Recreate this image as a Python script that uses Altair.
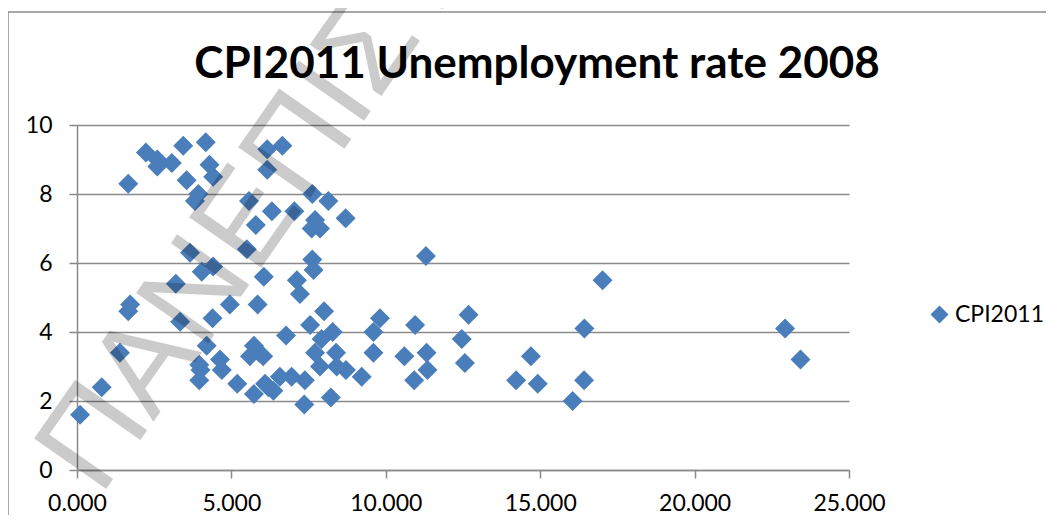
import altair as alt
import pandas as pd

# ---- data ----
cpi2011 = [0.10, 0.80, 1.39, 1.72, 1.66, 1.66, 2.23, 2.60, 2.60, 3.07,
           3.44, 4.17, 4.29, 4.41, 3.55, 3.93, 3.82, 3.66, 4.04, 4.41,
           3.20, 3.34, 4.39, 4.95, 5.85, 4.20, 3.96, 4.00, 3.96, 4.63,
           4.69, 5.19, 5.73, 5.57, 6.31, 7.04, 5.79, 5.50, 6.16, 6.65,
           6.16, 7.62, 8.14, 8.70, 7.71, 7.60, 7.87, 7.62, 7.66, 6.05,
           7.12, 7.22, 11.30, 8.00, 7.55, 8.28, 7.92, 7.71, 8.39, 7.87,
           8.41, 8.71, 7.38, 8.22, 7.36, 9.22, 9.81, 9.60, 9.60, 10.60,
           10.95, 11.32, 11.35, 10.92, 12.68, 12.46, 12.56, 14.70, 14.22, 14.92,
           16.05, 17.02, 16.43, 16.42, 22.93, 23.43, 5.73, 5.60, 6.03, 5.90,
           6.09, 6.36, 6.57, 6.95, 6.77, 6.20]
unemployment2008 = [1.6, 2.4, 3.4, 4.8, 4.6, 8.3, 9.2, 9.0, 8.8, 8.9,
                    9.4, 9.5, 8.85, 8.5, 8.4, 8.0, 7.8, 6.3, 5.75, 5.9,
                    5.4, 4.3, 4.4, 4.8, 4.8, 3.6, 3.05, 2.9, 2.6, 3.2,
                    2.9, 2.5, 2.2, 7.8, 7.5, 7.5, 7.1, 6.4, 9.3, 9.4,
                    8.7, 8.0, 7.8, 7.3, 7.25, 7.0, 7.0, 6.1, 5.8, 5.6,
                    5.5, 5.1, 6.2, 4.6, 4.2, 4.0, 3.8, 3.4, 3.4, 3.0,
                    3.0, 2.9, 2.6, 2.1, 1.9, 2.7, 4.4, 4.0, 3.4, 3.3,
                    4.2, 3.4, 2.9, 2.6, 4.5, 3.8, 3.1, 3.3, 2.6, 2.5,
                    2.0, 5.5, 4.1, 2.6, 4.1, 3.2, 3.6, 3.3, 3.3, 3.4,
                    2.5, 2.3, 2.7, 2.7, 3.9, 2.4]
series_name = "CPI2011"
title_text = "CPI2011 Unemployment rate 2008"
x_ticks = [0, 5, 10, 15, 20, 25]
y_ticks = [0, 2, 4, 6, 8, 10]
watermark_text = "ΠΑΝΕΠΙΣΤΗΜΙΟ"
watermark_pos = [0.75, -0.8]   # data units of the watermark anchor

df = pd.DataFrame({"cpi": cpi2011, "unemp": unemployment2008, "series": series_name})

FONT = "Lato"
GRID = "#8a8a8a"
BLUE = "#4A7EBB"

x_scale = alt.Scale(domain=[0, 25], nice=False)
y_scale = alt.Scale(domain=[0, 10], nice=False)

x_axis = alt.Axis(values=x_ticks, format=".3f", title=None, grid=False,
                  domainColor=GRID, domainWidth=1.5, tickColor=GRID, tickWidth=1.5,
                  tickSize=8, labelFont=FONT, labelFontSize=23, labelColor="black",
                  labelPadding=14, labelFlush=False)
y_axis = alt.Axis(values=y_ticks, format="d", title=None, grid=True,
                  gridColor=GRID, gridWidth=1.5, domainColor=GRID, domainWidth=1.5,
                  tickColor=GRID, tickWidth=1.5, tickSize=8, labelFont=FONT,
                  labelFontSize=23, labelColor="black", labelPadding=17)

border = alt.Chart(pd.DataFrame({"k": [0]})).mark_rect(
    fillOpacity=0, stroke="#8c8c8c", strokeWidth=1.5
).encode(x=alt.value(-69), y=alt.value(-113), x2=alt.value(1500), y2=alt.value(1000))

points = alt.Chart(df).mark_point(filled=True, shape="diamond", size=400, opacity=1).encode(
    x=alt.X("cpi:Q", scale=x_scale, axis=x_axis),
    y=alt.Y("unemp:Q", scale=y_scale, axis=y_axis),
    color=alt.Color("series:N",
                    scale=alt.Scale(domain=[series_name], range=[BLUE]),
                    legend=alt.Legend(title=None, orient="none", legendX=851, legendY=178,
                                      symbolType="diamond", symbolSize=324,
                                      labelFont=FONT, labelFontSize=23, labelColor="black",
                                      labelOffset=4, padding=0)),
)

wm = alt.Chart(pd.DataFrame({"t": [watermark_text], "x": [watermark_pos[0]], "y": [watermark_pos[1]]})).mark_text(
    font="Liberation Sans", fontSize=128, angle=305, align="left", baseline="alphabetic",
    color="black", opacity=0.2
).encode(x=alt.X("x:Q", scale=x_scale), y=alt.Y("y:Q", scale=y_scale), text="t:N")

title = alt.Chart(pd.DataFrame({"t": [title_text]})).mark_text(
    font=FONT, fontSize=44, fontWeight="bold", color="black", align="center", baseline="alphabetic"
).encode(x=alt.value(460), y=alt.value(-47), text="t:N")

chart = alt.layer(border, points, wm, title).properties(
    width=772, height=345,
    autosize=alt.AutoSizeParams(type="none"),
    padding={"left": 69, "top": 117, "right": 197, "bottom": 45},
).configure_view(stroke=None)

chart.save("out.html", embed_options={"renderer": "svg", "actions": False})
